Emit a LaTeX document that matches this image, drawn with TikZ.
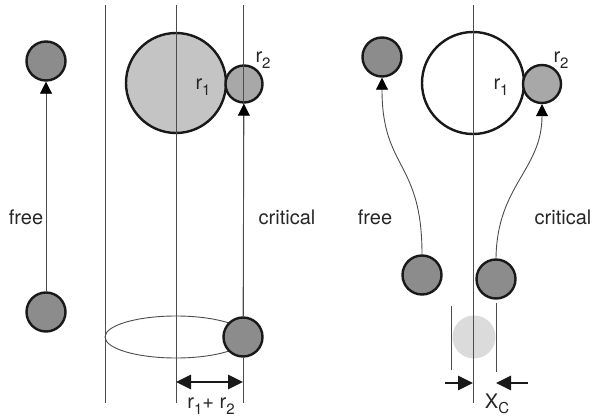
\documentclass[tikz,border=0pt]{standalone}
\usepackage{fontspec}
\setmainfont{TeX Gyre Heros}
\usetikzlibrary{arrows.meta}
\usetikzlibrary{positioning}
\newcommand{\lowidx}[1]{\raisebox{-0.5ex}{\fontsize{15}{15}\selectfont #1}}

\begin{document}
\begin{tikzpicture}[x=1pt, y=-1pt,
    particle/.style={circle, draw=black!90, line width=2.4pt, fill=#1, minimum size=39pt, inner sep=0pt},
    particle/.default=black!45,
    guide/.style={line width=0.9pt, black!70},
    tip/.style={guide, -{Triangle[length=12pt, width=12pt, fill=black, color=black]}},
    head/.tip={Triangle[length=15pt, width=14pt]},
    push/.style={line width=2.8pt, black!90},
    lbl/.style={font=\fontsize{20}{22}\selectfont, text=black!85, inner sep=0pt}]
  \useasboundingbox (0,0) rectangle (597,420);

  % left panel: collision cylinder
  \node[particle] (freeTop) at (46,61) {};
  \node[particle] (freeBot) at (46,312) {};
  \draw[tip] (freeBot) -- (freeTop);
  \node[particle=black!23, minimum size=100pt] (discOne) at (176,83) {};
  \node[particle=black!34, minimum size=37pt] (discTwo) at (244,84) {};
  \draw[guide] (176,337) ellipse [x radius=71, y radius=21];
  \node[particle] (orbitDot) at (243,337) {};
  \draw[guide] (105,5) -- (105,403);
  \draw[guide] (176,5) -- (176,403);
  \draw[guide] (243,5) -- (orbitDot.north);
  \draw[guide] (orbitDot.south) -- (243,403);
  \draw[tip] (orbitDot) -- (discTwo);
  \coordinate (spanL) at (176,382);
  \coordinate (spanR) at (243,382);
  \draw[push, head-head] (spanL) -- (spanR);
  \node[lbl] (lblFreeL) at (26,217) {free};
  \node[lbl] (lblCritL) at (287,217) {critical};
  \node[lbl] (lblOneL) at (203,87) {r\lowidx{1}};
  \node[lbl] (lblTwoL) at (263,60) {r\lowidx{2}};
  \node[lbl] (lblSum) at (211,406) {r\lowidx{1}+ r\lowidx{2}};

  % right panel: curved paths
  \node[particle=white, minimum size=102pt] (discOneR) at (473,83) {};
  \node[particle=black!34, minimum size=38pt] (discTwoR) at (542,84) {};
  \node[particle] (freeTopR) at (382,57) {};
  \node[particle] (freeBotR) at (422,275) {};
  \node[particle] (critBotR) at (496,279) {};
  \node[circle, fill=black!14, minimum size=43pt, inner sep=0pt] (ghost) at (474,337) {};
  \draw[guide] (473,5) -- (473,403);
  \draw[guide] (451,306) -- (451,370);
  \draw[guide] (496,303) -- (496,372);
  \draw[tip] (freeBotR.north) .. controls (422,160) and (382,170) .. (freeTopR.south);
  \draw[tip] (critBotR.north) .. controls (497,185) and (542,170) .. (discTwoR.south);
  \coordinate (gapL) at (445,383);
  \coordinate (gapR) at (528,383);
  \draw[push, -head] (gapL) -- (473,383);
  \draw[push, -head] (gapR) -- (496,383);
  \node[lbl] (lblFreeR) at (375,217) {free};
  \node[lbl] (lblCritR) at (563,217) {critical};
  \node[lbl] (lblOneR) at (501,87) {r\lowidx{1}};
  \node[lbl] (lblTwoR) at (561,60) {r\lowidx{2}};
  \node[lbl] (lblGap) at (497,404) {X\lowidx{C}};
\end{tikzpicture}
\end{document}
